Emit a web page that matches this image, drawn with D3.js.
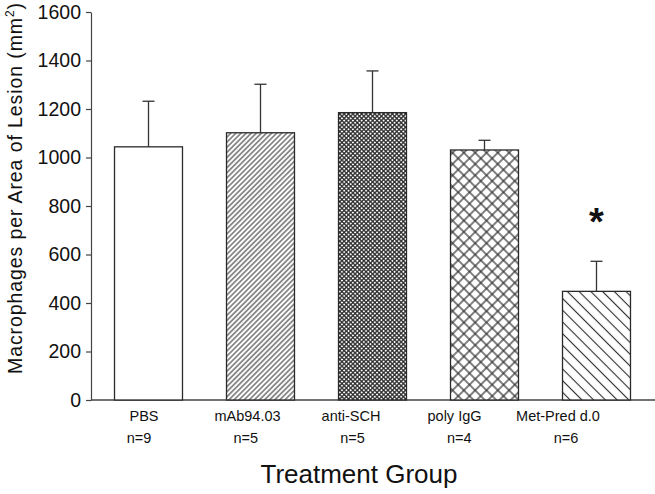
<!DOCTYPE html>
<html>
<head>
<meta charset="utf-8">
<script src="https://cdn.jsdelivr.net/npm/d3@7/dist/d3.min.js"></script>
<style>
  html, body { margin: 0; padding: 0; background: #fff; }
  svg { display: block; font-family: "Liberation Sans", Arial, Helvetica, sans-serif; }
</style>
</head>
<body>
<svg id="chart" width="655" height="494"></svg>
<script>
// ---- data ----
const categories = ["PBS", "mAb94.03", "anti-SCH", "poly IgG", "Met-Pred d.0"];
const sampleSizes = ["n=9", "n=5", "n=5", "n=4", "n=6"];
const means = [1044, 1102, 1185, 1031, 448];
const errors = [188, 200, 172, 40, 124];
const significant = [false, false, false, false, true];
const yTicks = [0, 200, 400, 600, 800, 1000, 1200, 1400, 1600];
const fills = ["none", "hatchFine", "crossDense", "crossWide", "hatchBack"];

const svg = d3.select("#chart");
const ink = "#2a2a2a";

// ---- patterns ----
const defs = svg.append("defs");
function linePattern(id, spacing, angle, width) {
  const p = defs.append("pattern").attr("id", id)
    .attr("patternUnits", "userSpaceOnUse")
    .attr("width", spacing).attr("height", spacing)
    .attr("patternTransform", `rotate(${angle})`);
  p.append("rect").attr("width", spacing).attr("height", spacing).attr("fill", "#fff");
  p.append("line").attr("x1", spacing / 2).attr("x2", spacing / 2)
    .attr("y1", 0).attr("y2", spacing)
    .attr("stroke", ink).attr("stroke-width", width);
}
function crossPattern(id, spacing, width) {
  const p = defs.append("pattern").attr("id", id)
    .attr("patternUnits", "userSpaceOnUse")
    .attr("width", spacing).attr("height", spacing)
    .attr("patternTransform", "rotate(45)");
  p.append("rect").attr("width", spacing).attr("height", spacing).attr("fill", "#fff");
  p.append("line").attr("x1", spacing / 2).attr("x2", spacing / 2)
    .attr("y1", 0).attr("y2", spacing).attr("stroke", ink).attr("stroke-width", width);
  p.append("line").attr("y1", spacing / 2).attr("y2", spacing / 2)
    .attr("x1", 0).attr("x2", spacing).attr("stroke", ink).attr("stroke-width", width);
}
linePattern("hatchFine", 3.6, 45, 1);
crossPattern("crossDense", 3.1, 1.3);
crossPattern("crossWide", 8, 1.2);
linePattern("hatchBack", 8.3, -45, 1.1);

// ---- scales ----
const y = d3.scaleLinear().domain([0, 1600]).range([400, 12]);
const x = d3.scaleBand().domain(categories).range([92.5, 652.5])
  .paddingInner(0.393).paddingOuter(0.1965);
const xName = d3.scalePoint().domain(categories).range([144, 558]);
const xN = d3.scalePoint().domain(categories).range([139, 566]);

// ---- y axis ----
const yAxis = svg.append("g").attr("transform", "translate(91,0)")
  .call(d3.axisLeft(y).tickValues(yTicks).tickFormat(d3.format("d"))
    .tickSize(5).tickPadding(5).tickSizeOuter(0));
yAxis.select(".domain").attr("stroke", "#444").attr("stroke-width", 1.2);
yAxis.selectAll(".tick line").attr("stroke", "#444").attr("stroke-width", 1.2);
yAxis.selectAll(".tick text").attr("font-size", 19.5).attr("fill", "#111")
  .attr("font-family", "'Liberation Sans', Arial, sans-serif");

// x baseline
svg.append("line").attr("x1", 91).attr("x2", 655)
  .attr("y1", y(0)).attr("y2", y(0))
  .attr("stroke", "#444").attr("stroke-width", 1.4);

// ---- bars ----
const idx = d3.range(categories.length);
svg.append("g").selectAll("rect").data(idx).join("rect")
  .attr("x", i => x(categories[i]))
  .attr("y", i => y(means[i]))
  .attr("width", x.bandwidth())
  .attr("height", i => y(0) - y(means[i]))
  .attr("fill", i => fills[i] === "none" ? "#fff" : `url(#${fills[i]})`)
  .attr("stroke", ink).attr("stroke-width", 1.3);

// ---- error bars ----
const eg = svg.append("g").attr("stroke", "#333").attr("stroke-width", 1.3);
idx.forEach(i => {
  const cx = x(categories[i]) + x.bandwidth() / 2;
  eg.append("line").attr("x1", cx).attr("x2", cx)
    .attr("y1", y(means[i])).attr("y2", y(means[i] + errors[i]));
  eg.append("line").attr("x1", cx - 6).attr("x2", cx + 6)
    .attr("y1", y(means[i] + errors[i])).attr("y2", y(means[i] + errors[i]));
});

// significance marker
svg.append("g").selectAll("text").data(idx.filter(i => significant[i])).join("text")
  .attr("x", i => x(categories[i]) + x.bandwidth() / 2)
  .attr("y", i => y(means[i] + errors[i]) - 26)
  .attr("text-anchor", "middle").attr("font-size", 38).attr("font-weight", "bold")
  .attr("fill", "#111").text("*");

// ---- category labels ----
svg.append("g").selectAll("text").data(categories).join("text")
  .attr("x", d => xName(d)).attr("y", 421)
  .attr("text-anchor", "middle").attr("font-size", 14.5).attr("fill", "#111")
  .text(d => d);
svg.append("g").selectAll("text").data(idx).join("text")
  .attr("x", i => xN(categories[i])).attr("y", 443)
  .attr("text-anchor", "middle").attr("font-size", 14.5).attr("fill", "#111")
  .text(i => sampleSizes[i]);

// ---- axis titles ----
svg.append("text").attr("x", 359).attr("y", 483)
  .attr("text-anchor", "middle").attr("font-size", 26).attr("fill", "#111")
  .text("Treatment Group");

const yt = svg.append("text")
  .attr("transform", "translate(22,188) rotate(-90)")
  .attr("text-anchor", "middle").attr("font-size", 19.5)
  .attr("letter-spacing", 0.9).attr("fill", "#111");
yt.append("tspan").text("Macrophages per Area of Lesion (mm");
yt.append("tspan").attr("font-size", 12).attr("dy", -8).text("2");
yt.append("tspan").attr("dy", 8).text(")");
</script>
</body>
</html>
